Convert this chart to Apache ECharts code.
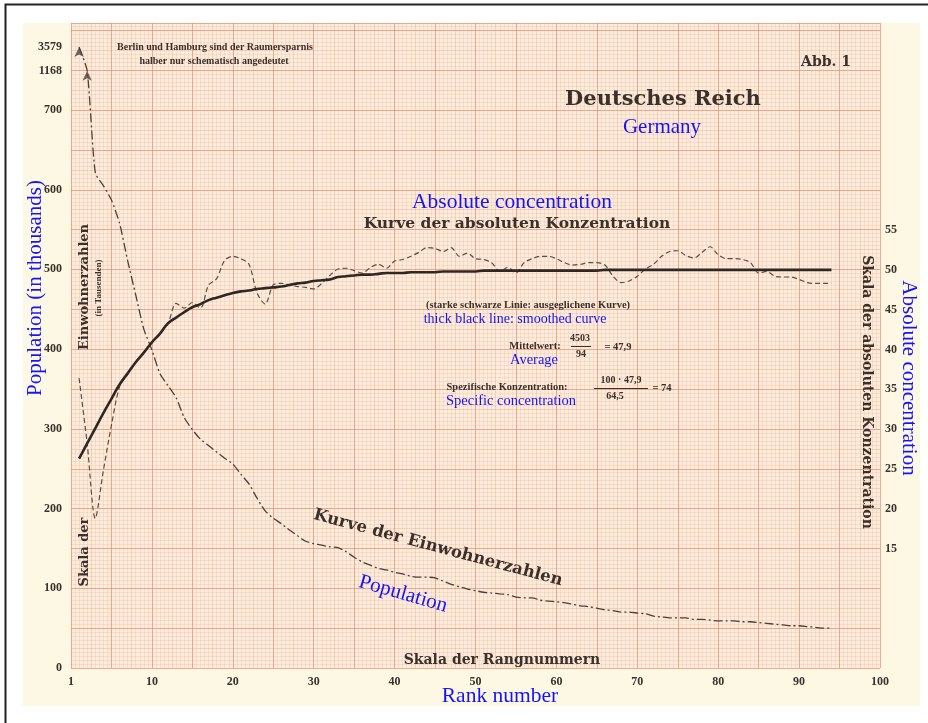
<!DOCTYPE html>
<html><head><meta charset="utf-8">
<script src="https://cdn.jsdelivr.net/npm/echarts@6.0.0/dist/echarts.min.js"></script>
<style>html,body{margin:0;padding:0;background:#fff}#c{width:928px;height:723px}</style>
</head><body><div id="c"></div>
<script>
// ---- data ----
const ranks = [1,2,3,4,5,6,7,8,9,10,11,12,13,14,15,16,17,18,19,20,21,22,23,24,25,26,27,28,29,30,
  31,32,33,34,35,36,37,38,39,40,41,42,43,44,45,46,47,48,49,50,51,52,53,54,55,56,57,58,59,60,
  61,62,63,64,65,66,67,68,69,70,71,72,73,74,75,76,77,78,79,80,81,82,83,84,85,86,87,88,89,90,91,92,93,94];
// population in thousands, by rank
const population = [3579,1168,621,605,587,558,511,468,425,399,
  369,354,339,314,299,287,279,271,263,256,
  243,231,213,197,188,181,173,166,159,156,
  154,152,151,146,139,133,129,125,123,120,
  118,115,114,114,113,109,105,102,99,97,
  95,94,93,92,89,88,88,85,84,83,
  82,80,78,77,75,73,72,70,70,69,
  68,65,64,63,63,63,61,61,60,59,
  59,59,58,58,57,56,55,54,53,53,
  52,51,50,50];
// absolute concentration (dashed curve)
const concentration = [36.4,28.2,18.8,24.8,30.5,35.3,36.9,38.4,39.6,40.9,
  42.0,43.3,45.8,45.2,45.9,45.2,48.1,48.9,51.2,51.7,
  51.4,50.7,47.1,45.7,48.1,48.3,48.1,47.9,47.8,47.6,
  48.3,49.3,50.1,50.2,49.9,49.6,50.3,50.7,50.2,51.1,
  51.3,51.7,52.2,52.8,52.7,52.3,52.8,51.7,52.1,51.4,
  51.3,50.9,49.8,50.3,49.6,50.9,51.4,51.7,51.7,51.4,
  50.9,50.6,50.7,50.9,50.9,50.6,49.2,48.4,48.6,49.2,
  50.1,50.7,51.7,52.3,52.4,51.8,51.5,52.2,52.9,51.9,
  51.4,51.4,51.3,50.9,49.6,49.8,49.2,49.1,49.1,48.8,
  48.4,48.3,48.3,48.3];
// smoothed concentration (thick black line)
const smoothed = [26.3,28.2,30.1,32.0,33.8,35.6,37.0,38.4,39.6,40.9,
  42.0,43.3,44.0,44.7,45.3,45.7,46.2,46.5,46.8,47.1,
  47.3,47.4,47.6,47.7,47.8,47.9,48.1,48.3,48.4,48.6,
  48.7,48.8,49.1,49.2,49.3,49.4,49.4,49.5,49.6,49.6,
  49.6,49.7,49.7,49.7,49.7,49.8,49.8,49.8,49.8,49.8,
  49.9,49.9,49.9,49.9,49.9,49.9,49.9,49.9,49.9,49.9,
  49.9,49.9,49.9,49.9,49.9,50.0,50.0,50.0,50.0,50.0,
  50.0,50.0,50.0,50.0,50.0,50.0,50.0,50.0,50.0,50.0,
  50.0,50.0,50.0,50.0,50.0,50.0,50.0,50.0,50.0,50.0,
  50.0,50.0,50.0,50.0];
const xTickValues = [0,10,20,30,40,50,60,70,80,90,100];
const xTickLabels = ['1','10','20','30','40','50','60','70','80','90','100'];
const popTickValues = [0,100,200,300,400,500,600,700,1168,3579];
const concTickValues = [15,20,25,30,35,40,45,50,55];

// ---- styling ----
const INK = '#3a312b';
const BLUE = '#1515f5';
const axisFont = {fontFamily:'Liberation Serif', fontWeight:'bold', fontSize:12, color:INK};
const plain = function(v){ return String(v); };

const chart = echarts.init(document.getElementById('c'), null, {renderer:'canvas'});

function T(text, x, y, font, fill, rotation) {
  return {type:'text', x:x, y:y, rotation:rotation||0, z:100,
    style:{text:text, font:font, fill:fill||INK, textAlign:'center', textVerticalAlign:'middle',
      align:'center', verticalAlign:'middle'}};
}
const SERIF_B = '"DejaVu Serif"';
const LIB = '"Liberation Serif"';

const graphics = [
  {type:'rect', z:-100, shape:{x:23,y:23,width:897,height:683}, style:{fill:'#fcf8e4'}},
  {type:'polyline', z:100, shape:{points:[[5.5,723],[5.5,4.5],[928,4.5]]}, style:{stroke:'#222', lineWidth:2, fill:null}},
  T('Berlin und Hamburg sind der Raumersparnis', 215, 47, 'bold 10px '+LIB),
  T('halber nur schematisch angedeutet', 214, 61, 'bold 10px '+LIB),
  T('Abb. 1', 826, 62, 'bold 14px '+SERIF_B),
  T('Deutsches Reich', 663, 100, 'bold 21px '+SERIF_B),
  T('Germany', 662, 127, '21px '+LIB, BLUE),
  T('Absolute concentration', 512, 202, '21.5px '+LIB, BLUE),
  T('Kurve der absoluten Konzentration', 517, 224, 'bold 15.5px '+SERIF_B),
  T('(starke schwarze Linie: ausgeglichene Kurve)', 528, 305, 'bold 10.5px '+LIB),
  T('thick black line: smoothed curve', 515, 319, '14px '+LIB, BLUE),
  T('Mittelwert:', 535, 346, 'bold 10.5px '+LIB),
  T('4503', 580, 338, 'bold 10px '+LIB),
  T('94', 581, 354, 'bold 10px '+LIB),
  {type:'line', z:100, shape:{x1:571,y1:346.5,x2:591,y2:346.5}, style:{stroke:INK, lineWidth:1}},
  T('= 47,9', 618, 347, 'bold 10.5px '+LIB),
  T('Average', 534, 360, '14.5px '+LIB, BLUE),
  T('Spezifische Konzentration:', 507, 387, 'bold 10.5px '+LIB),
  T('100 · 47,9', 621, 380, 'bold 10px '+LIB),
  T('64,5', 615, 396, 'bold 10px '+LIB),
  {type:'line', z:100, shape:{x1:594,y1:388.5,x2:648,y2:388.5}, style:{stroke:INK, lineWidth:1}},
  T('= 74', 662, 388, 'bold 10.5px '+LIB),
  T('Specific concentration', 511, 401, '14.5px '+LIB, BLUE),
  T('Kurve der Einwohnerzahlen', 438, 548, 'bold 16.5px '+SERIF_B, INK, -15*Math.PI/180),
  T('Population', 403, 594, '21px '+LIB, BLUE, -16*Math.PI/180),
  T('Skala der Rangnummern', 502, 660, 'bold 14px '+SERIF_B),
  T('Rank number', 500, 696, '21.5px '+LIB, BLUE),
  T('Skala der', 85, 552, 'bold 13px '+SERIF_B, INK, Math.PI/2),
  T('Einwohnerzahlen', 85, 287, 'bold 13px '+SERIF_B, INK, Math.PI/2),
  T('(in Tausenden)', 99, 288, 'bold 9px '+LIB, INK, Math.PI/2),
  T('Population (in thousands)', 35, 288, '21px '+LIB, BLUE, Math.PI/2),
  T('Skala der absoluten Konzentration', 867, 392, 'bold 14px '+SERIF_B, INK, -Math.PI/2),
  T('Absolute concentration', 909, 378, '21px '+LIB, BLUE, -Math.PI/2)
];

const gridAxisCommon = {axisLine:{show:false}, axisTick:{show:false}, axisLabel:{show:false}};
const MED = 'rgba(236,150,115,0.32)';
const FINE = 'rgba(236,165,135,0.22)';
const BOLD = 'rgba(230,125,95,0.5)';

const option = {
  backgroundColor:'#ffffff',
  animation:false,
  grid:{left:71, right:48, top:23, bottom:55, show:true, backgroundColor:'#fbecdb', borderWidth:0, containLabel:false},
  xAxis:[
    {type:'value', min:0, max:100, position:'bottom', axisLine:{show:false}, axisTick:{show:false}, splitLine:{show:false},
      axisLabel:Object.assign({customValues:xTickValues, margin:8,
        formatter:function(v){ const i = xTickValues.indexOf(v); return i>=0 ? xTickLabels[i] : ''; }}, axisFont)},
    Object.assign({type:'value', min:0, max:100, interval:2.5, position:'bottom', z:0,
      splitLine:{show:true, lineStyle:{color:MED, width:1}},
      minorTick:{show:false, splitNumber:5},
      minorSplitLine:{show:true, lineStyle:{color:FINE, width:1}}}, gridAxisCommon),
    Object.assign({type:'value', min:0, max:100, interval:5, position:'top', z:0,
      splitLine:{show:true, lineStyle:{color:BOLD, width:1}}}, gridAxisCommon)
  ],
  yAxis:[
    {type:'value', min:0, max:3609, position:'left',
      breaks:[{start:715, end:1144, gap:'1.24%'}, {start:1178, end:3569, gap:'1.24%'}],
      breakArea:{show:false},
      axisLine:{show:false}, axisTick:{show:false}, splitLine:{show:false},
      axisLabel:Object.assign({customValues:popTickValues, margin:9, formatter:plain}, axisFont)},
    {type:'value', min:0, max:81, position:'right',
      axisLine:{show:false}, axisTick:{show:false}, splitLine:{show:false},
      axisLabel:Object.assign({customValues:concTickValues, margin:5, formatter:plain}, axisFont)},
    Object.assign({type:'value', min:0, max:809.3, interval:25, position:'left', z:0,
      splitLine:{show:true, lineStyle:{color:MED, width:1}},
      minorTick:{show:false, splitNumber:5},
      minorSplitLine:{show:true, lineStyle:{color:FINE, width:1}}}, gridAxisCommon),
    Object.assign({type:'value', min:0, max:809.3, interval:50, position:'right', z:0,
      splitLine:{show:true, lineStyle:{color:BOLD, width:1}}}, gridAxisCommon)
  ],
  series:[
    {name:'Smoothed', type:'line', xAxisIndex:0, yAxisIndex:1, z:5, smooth:true, symbol:'none',
      data:ranks.map((r,i)=>[r, smoothed[i]]),
      lineStyle:{color:'#2d2823', width:2.6}},
    {name:'Absolute concentration', type:'line', xAxisIndex:0, yAxisIndex:1, z:4, smooth:0.3, symbol:'none',
      data:ranks.map((r,i)=>[r, concentration[i]]),
      lineStyle:{color:'#5a4e45', width:1.2, type:[5,3]}},
    {name:'Population', type:'line', xAxisIndex:0, yAxisIndex:0, z:4, smooth:0.2, symbol:'none',
      data:ranks.map((r,i)=>[r, population[i]]),
      lineStyle:{color:'#4a4038', width:1.3, type:[9,3,2,3]}},
    {name:'Berlin/Hamburg', type:'scatter', xAxisIndex:0, yAxisIndex:0, z:6, symbol:'arrow', symbolSize:[7,10],
      data:ranks.slice(0,2).map((r,i)=>[r, population[i]]),
      itemStyle:{color:'#4a4038'}}
  ],
  graphic:graphics
};
chart.setOption(option);
</script>
</body></html>
